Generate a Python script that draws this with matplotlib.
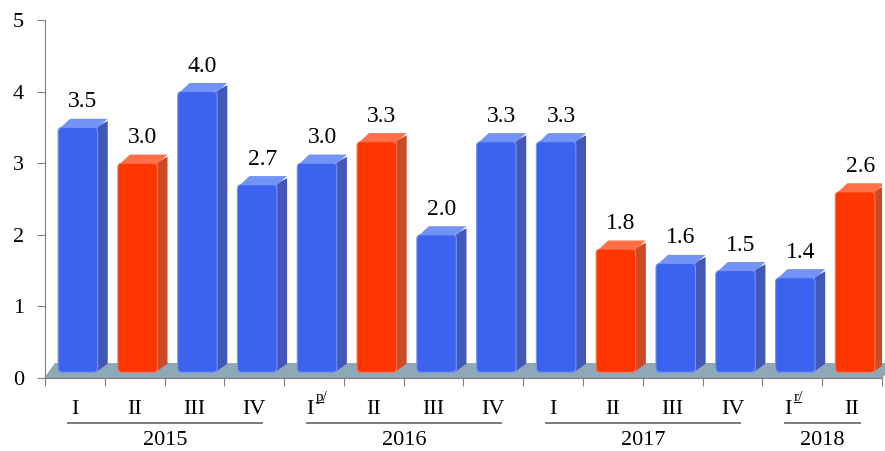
import matplotlib
matplotlib.use("Agg")
import matplotlib.pyplot as plt
from matplotlib.patches import FancyBboxPatch, Polygon
from matplotlib import transforms

# Crecimiento trimestral por periodo
quarters = ['I', 'II', 'III', 'IV', 'I', 'II', 'III', 'IV',
            'I', 'II', 'III', 'IV', 'I', 'II']
marks = ['', '', '', '', 'p/', '', '', '', '', '', '', '', 'r/', '']
values = [3.5, 3.0, 4.0, 2.7, 3.0, 3.3, 2.0, 3.3, 3.3, 1.8, 1.6, 1.5, 1.4, 2.6]
highlight = [False, True, False, False, False, True, False, False,
             False, True, False, False, False, True]
years = ['2015', '2016', '2017', '2018']
year_spans = [(0, 3), (4, 7), (8, 11), (12, 13)]

plt.rcParams['font.family'] = ['Liberation Serif', 'DejaVu Serif']

W, H = 885, 451
fig = plt.figure(figsize=(W / 100, H / 100), dpi=100)
ax = fig.add_axes([0.0508, 0.1619, 0.9458, 0.7938])
ax.set_xlim(0, len(values))
ax.set_ylim(0, 5)

blue = {'front': '#3c63f0', 'side': '#4257b8', 'top': '#7393f7'}
red = {'front': '#ff3600', 'side': '#cc4a25', 'top': '#ff7048'}

dx, dy = 0.17, 0.12      # profundidad 3D
base = 0.08

# piso
floor = Polygon([(0, 0), (len(values), 0), (len(values) + dx, dy + 0.08),
                 (dx, dy + 0.08)], closed=True, facecolor='#8fa8b8',
                edgecolor='#7f98a8', lw=0.6, zorder=1, clip_on=False)
ax.add_patch(floor)

aspect = (1 / 71.6) / (1 / 59.8)
for i, v in enumerate(values):
    c = red if highlight[i] else blue
    x0 = i + 0.22
    w = 0.66
    side = Polygon([(x0 + w - 0.03, base), (x0 + w + dx, base + dy),
                    (x0 + w + dx, v + dy - 0.03), (x0 + w - 0.03, v)],
                   closed=True, facecolor=c['side'], edgecolor='none', zorder=2)
    top = Polygon([(x0 + 0.02, v - 0.02), (x0 + dx + 0.03, v + dy),
                   (x0 + w + dx, v + dy), (x0 + w - 0.02, v - 0.02)],
                  closed=True, facecolor=c['top'], edgecolor='none', zorder=2)
    front = FancyBboxPatch((x0, base), w, v - base,
                           boxstyle='round,pad=0,rounding_size=0.07',
                           mutation_aspect=aspect, facecolor=c['front'],
                           edgecolor=c['top'], lw=0.8, zorder=3)
    ax.add_patch(side)
    ax.add_patch(top)
    ax.add_patch(front)
    ax.text(x0 + (w + dx) / 2, v + 0.28, f'{v:.1f}', ha='center',
            va='baseline', fontsize=17, zorder=4)

# ejes
for s in ['top', 'right']:
    ax.spines[s].set_visible(False)
ax.spines['left'].set_color('#808080')
ax.spines['bottom'].set_color('#808080')
ax.set_yticks(range(6))
ax.tick_params(axis='y', labelsize=16, length=6, color='#808080', pad=9)
ax.set_xticks(range(len(values) + 1))
ax.set_xticklabels([])
ax.tick_params(axis='x', length=6, color='#808080', direction='out')

# etiquetas de trimestre y año
tr = transforms.blended_transform_factory(ax.transData, fig.transFigure)
qy = 1 - 414 / H
for i, q in enumerate(quarters):
    xc = i + 0.5
    if marks[i]:
        ax.text(xc - 0.07, qy, q, transform=tr, ha='center',
                va='baseline', fontsize=16)
        sup = transforms.offset_copy(tr, fig=fig, x=6, y=13, units='dots')
        ax.text(xc - 0.07, qy, marks[i], transform=sup, ha='left',
                va='baseline', fontsize=11)
        ul = transforms.offset_copy(tr, fig=fig, x=6, y=12, units='dots')
        ax.plot([xc - 0.07, xc + 0.05], [qy, qy], transform=ul,
                color='black', lw=0.8, clip_on=False)
    else:
        ax.text(xc, qy, q, transform=tr, ha='center', va='baseline',
                fontsize=16)

for yr, (a, b) in zip(years, year_spans):
    x1, x2 = a + 0.38, b + 0.63
    ax.plot([x1, x2], [1 - 423 / H] * 2, transform=tr, color='#707070',
            lw=1.3, clip_on=False)
    ax.text((x1 + x2) / 2, 1 - 445 / H, yr, transform=tr, ha='center',
            va='baseline', fontsize=16)

fig.savefig('out.png', dpi=100)
